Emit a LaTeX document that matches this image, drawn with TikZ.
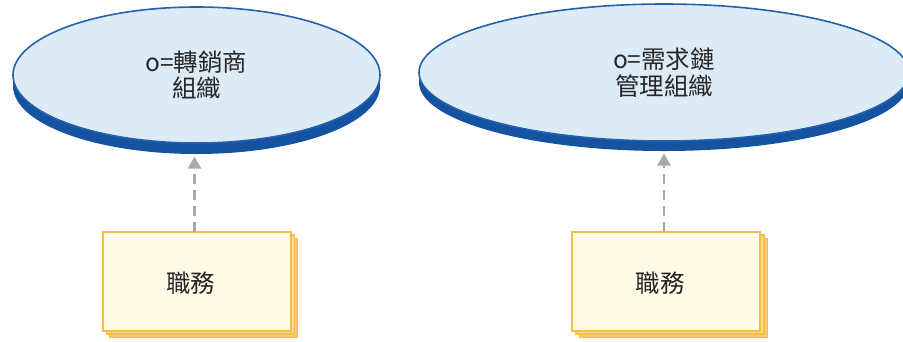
\documentclass[tikz,border=0pt]{standalone}
\usepackage{fontspec}
\setmainfont{Noto Sans CJK TC}
\usetikzlibrary{shapes.geometric,arrows.meta}
\definecolor{efill}{HTML}{DDEBF7}
\definecolor{eline}{HTML}{2461AE}
\definecolor{eshadow}{HTML}{1553A1}
\definecolor{bfill}{HTML}{FFFBE6}
\definecolor{bline}{HTML}{F5BC48}
\definecolor{bmid}{HTML}{FBDB90}
\definecolor{bback}{HTML}{F9CD6E}
\definecolor{arrgray}{HTML}{A9A9AC}
\definecolor{txt}{HTML}{262626}
\tikzset{
  orgface/.style={ellipse, inner sep=0pt, outer sep=0pt, fill=efill, draw=eline, line width=1.6pt,
    text=txt, font=\fontsize{24.5}{26.5}\selectfont, align=center},
  orgshadow/.style={ellipse, inner sep=0pt, outer sep=0pt, fill=eshadow},
  rolebox/.style={rectangle, inner sep=0pt, outer sep=0pt, minimum width=188pt, minimum height=99pt,
    fill=bfill, draw=bline, line width=2pt},
  rolelayer/.style={rectangle, inner sep=0pt, outer sep=0pt, minimum width=188pt, minimum height=99pt,
    draw=bline, line width=1.2pt},
  roletext/.style={text=txt, font=\fontsize{24.5}{26.5}\selectfont, inner sep=0pt},
  dep/.style={draw=arrgray, line width=2.2pt, dash pattern=on 10pt off 6pt,
    -{Triangle[width=13pt,length=12pt]}, arrgray}
}
\begin{document}
\begin{tikzpicture}[x=1pt,y=-1pt]
\useasboundingbox (0,0) rectangle (903,341);
% left organisation
\node[orgshadow, minimum width=367pt, minimum height=136pt] (e1s) at (196.5,86) {};
\node[orgface, minimum width=367pt, minimum height=136pt] (e1) at (196.5,75) {o=轉銷商\\組織};
% right organisation
\node[orgshadow, minimum width=490pt, minimum height=137pt] (e2s) at (664,82.5) {};
\node[orgface, minimum width=490pt, minimum height=137pt] (e2) at (664,72.5) {o=需求鏈\\管理組織};
% left role
\node[rolelayer, fill=bback] (b1c) at (203.7,288) {};
\node[rolelayer, fill=bmid] (b1b) at (200.2,284.5) {};
\node[rolebox] (b1) at (196.7,281) {};
\node[roletext] (t1) at (190.5,283) {職務};
% right role
\node[rolelayer, fill=bback] (b2c) at (673.4,288) {};
\node[rolelayer, fill=bmid] (b2b) at (669.9,284.5) {};
\node[rolebox] (b2) at (666.4,281) {};
\node[roletext] (t2) at (660,283) {職務};
% dependencies
\coordinate (a1) at (194.5,156.5);
\coordinate (a2) at (664,153.5);
\draw[dep] (b1.north -| a1) -- (a1);
\draw[dep] (b2.north -| a2) -- (a2);
\end{tikzpicture}
\end{document}
